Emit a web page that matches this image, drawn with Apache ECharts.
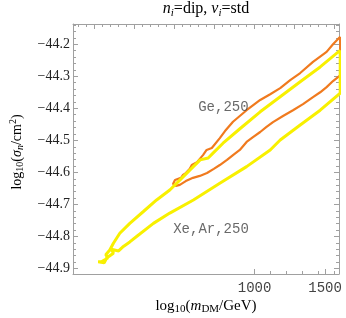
<!DOCTYPE html>
<html><head><meta charset="utf-8">
<script src="https://cdn.jsdelivr.net/npm/echarts@6/dist/echarts.min.js"></script>
<style>html,body{margin:0;padding:0;background:#fff}#c{width:346px;height:318px}</style>
</head><body><div id="c"></div>
<script>
// axis ranges (log10 units)
const X_MIN = 2.546, X_MAX = 3.211;
const Y_MIN = -44.917, Y_MAX = -44.137;

// tick labels
const xTickLabels = [1000, 1500];
const xBottomMinor = [3.04, 3.08, 3.12, 3.16, 3.2];
const xTopMajor = [2.6, 2.7, 2.8, 2.9, 3.0, 3.1, 3.2];
const yTickLabels = [-44.9, -44.8, -44.7, -44.6, -44.5, -44.4, -44.3, -44.2];

// Ge,250 contour (orange): log10(m/GeV), log10(sigma/cm^2)
const geX = [3.214,3.196,3.180,3.146,3.114,3.089,3.064,3.039,3.014,2.980,2.946,2.926,2.913,2.893,2.880,2.871,2.868,2.856,2.843,2.838,2.828,2.821,2.816,2.801,2.796,
             2.803,2.813,2.828,2.846,2.863,2.881,2.898,2.913,2.931,2.946,2.963,2.980,2.996,3.014,3.029,3.046,3.071,3.096,3.121,3.146,3.164,3.180,3.196,3.214];
const geY = [-44.177,-44.200,-44.224,-44.255,-44.290,-44.312,-44.337,-44.356,-44.374,-44.406,-44.442,-44.471,-44.493,-44.524,-44.530,-44.546,-44.552,-44.568,-44.577,-44.589,-44.602,-44.608,-44.617,-44.624,-44.636,
             -44.642,-44.639,-44.627,-44.617,-44.611,-44.602,-44.589,-44.577,-44.561,-44.546,-44.530,-44.505,-44.490,-44.474,-44.459,-44.443,-44.424,-44.406,-44.387,-44.365,-44.350,-44.334,-44.315,-44.297];

// Xe,Ar,250 contour (yellow)
const xeX = [3.214,3.164,3.114,3.064,3.014,2.964,2.921,2.896,2.884,2.864,2.838,2.813,2.788,2.755,2.722,2.688,2.663,2.647,2.638,2.628,2.633,2.618,2.609,
             2.624,2.630,2.647,2.642,2.660,2.672,2.688,2.705,2.747,2.788,2.847,2.913,2.980,3.039,3.064,3.114,3.164,3.214];
const xeY = [-44.219,-44.271,-44.317,-44.364,-44.411,-44.463,-44.509,-44.540,-44.555,-44.561,-44.593,-44.624,-44.655,-44.686,-44.722,-44.759,-44.790,-44.821,-44.842,-44.857,-44.867,-44.878,-44.879,
             -44.882,-44.867,-44.852,-44.840,-44.845,-44.831,-44.817,-44.800,-44.759,-44.727,-44.686,-44.634,-44.582,-44.530,-44.499,-44.452,-44.406,-44.353];

// annotation labels
const annotations = [
  {text: 'Ge,250', x: 2.922, y: -44.396},
  {text: 'Xe,Ar,250', x: 2.891, y: -44.779}
];

const ORANGE = '#f07a1e', YELLOW = '#f8f000', FRAME = '#a0a0a0';
const pairs = (xs, ys) => xs.map((x, i) => [x, ys[i]]);

const xTopMinor = [], yMinor = [];
for (let v = 2.56; v < X_MAX; v += 0.02) xTopMinor.push(+v.toFixed(2));
for (let v = -44.9; v < Y_MAX; v += 0.02) yMinor.push(+v.toFixed(2));

const serif = 'Liberation Serif';
const mono = 'Liberation Mono';

function xAx(pos, ticks, len, showLine, labels) {
  return {
    type: 'value', position: pos, min: X_MIN, max: X_MAX,
    axisLine: {show: showLine, lineStyle: {color: FRAME, width: 1}},
    axisTick: {show: true, inside: true, length: len, customValues: ticks, lineStyle: {color: FRAME}},
    axisLabel: labels ? {show: true, customValues: labels.map(v => Math.log10(v)), margin: 7,
      formatter: v => String(Math.round(Math.pow(10, v))), fontFamily: mono, fontSize: 14, color: '#444'} : {show: false},
    splitLine: {show: false}
  };
}
function yAx(pos, ticks, len, showLine, labels) {
  return {
    type: 'value', position: pos, min: Y_MIN, max: Y_MAX,
    axisLine: {show: showLine, lineStyle: {color: FRAME, width: 1}},
    axisTick: {show: true, inside: true, length: len, customValues: ticks, lineStyle: {color: FRAME}},
    axisLabel: labels ? {show: true, customValues: labels, margin: 3,
      formatter: v => '\u2212' + Math.abs(v).toFixed(1), fontFamily: serif, fontSize: 14, color: '#222'} : {show: false},
    splitLine: {show: false}
  };
}

const chart = echarts.init(document.getElementById('c'), null, {renderer: 'canvas'});
function richSet(main, sub) {
  return {
    r: {fontFamily: serif, fontSize: main, color: '#222', lineHeight: main + 3},
    i: {fontFamily: serif, fontSize: main, fontStyle: 'italic', color: '#222', lineHeight: main + 3},
    s: {fontFamily: serif, fontSize: sub, color: '#222', lineHeight: sub, verticalAlign: 'bottom'},
    si: {fontFamily: serif, fontSize: sub, fontStyle: 'italic', color: '#222', lineHeight: sub, verticalAlign: 'bottom'},
    sup: {fontFamily: serif, fontSize: sub, color: '#222', lineHeight: sub, verticalAlign: 'top'}
  };
}

chart.setOption({
  animation: false,
  grid: {left: 73, right: 7, top: 24, bottom: 44, containLabel: false},
  xAxis: [
    xAx('bottom', xTickLabels.map(v => Math.log10(v)), 5, true, xTickLabels),
    xAx('bottom', xBottomMinor, 3, false, null),
    xAx('top', xTopMajor, 5, true, null),
    xAx('top', xTopMinor, 3, false, null)
  ],
  yAxis: [
    yAx('left', yTickLabels, 5, true, yTickLabels),
    yAx('left', yMinor, 3, false, null),
    yAx('right', yTickLabels, 5, true, null),
    yAx('right', yMinor, 3, false, null)
  ],
  series: [
    {type: 'line', data: pairs(xeX, xeY).concat([[xeX[0], xeY[0]]]), showSymbol: false, symbol: 'none',
     lineStyle: {color: YELLOW, width: 3}, clip: true, z: 2},
    {type: 'line', data: pairs(geX, geY).concat([[geX[0], geY[0]]]), showSymbol: false, symbol: 'none',
     lineStyle: {color: ORANGE, width: 2.2}, clip: true, z: 1},
    {type: 'scatter', data: annotations.map(a => ({value: [a.x, a.y], name: a.text})), symbolSize: 0,
     label: {show: true, position: 'inside', formatter: p => p.name, fontFamily: mono, fontSize: 14, color: '#444'}, z: 5}
  ],
  graphic: [
    {type: 'text', x: 206, y: 9, style: {text: '{i|n}{si|i}{r|=dip, }{i|\u03bd}{si|i}{r|=std}', rich: richSet(16, 11), align: 'center', verticalAlign: 'middle'}},
    {type: 'text', x: 206, y: 306, style: {text: '{r|log}{s|10}{r|(}{i|m}{s|DM}{r|/GeV)}', rich: richSet(15, 11), align: 'center', verticalAlign: 'middle'}},
    {type: 'text', x: 17, y: 152, rotation: Math.PI / 2, style: {text: '{r|log}{s|10}{r|(}{i|\u03c3}{si|n}{r|/cm}{sup|2}{r|)}', rich: richSet(14, 10), align: 'center', verticalAlign: 'middle'}}
  ]
});
</script></body></html>
